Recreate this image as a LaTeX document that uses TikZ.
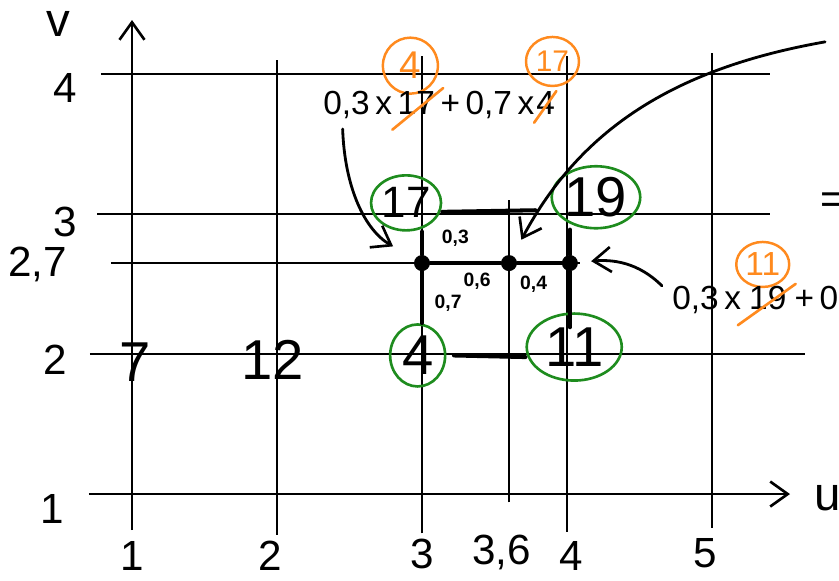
\documentclass[tikz,border=0pt]{standalone}
\usepackage{fontspec}
\setmainfont{Liberation Sans}
\usetikzlibrary{arrows.meta,positioning,calc,shapes.geometric}
\definecolor{pengreen}{HTML}{1E8C1E}
\definecolor{penorange}{HTML}{FF8A1E}
\tikzset{
  >={Straight Barb[length=3.5mm,width=5mm,line width=1.5pt]},
  % gitter
  grid/.style={draw=black,line width=1.1pt},
  ax/.style={->,draw=black,line width=1.1pt},
  tick/.style={font=\fontsize{24}{24}\selectfont,inner sep=0pt},
  axl/.style={font=\fontsize{27}{27}\selectfont,inner sep=0pt},
  val/.style={font=\fontsize{32}{32}\selectfont,inner sep=0pt},
  % interpolation
  gring/.style={ellipse,draw=pengreen,line width=1.5pt,inner sep=0pt,
                font=\fontsize{32}{32}\selectfont},
  oring/.style={ellipse,draw=penorange,line width=1.4pt,inner sep=0pt,
                text=penorange,font=\fontsize{19}{19}\selectfont},
  knot/.style={circle,fill=black,inner sep=0pt,minimum size=3.2mm},
  cell/.style={draw=black,line width=2.3pt,line cap=round},
  wt/.style={font=\fontsize{11}{11}\selectfont\bfseries,inner sep=0pt},
  fml/.style={font=\fontsize{19}{19}\selectfont,inner sep=0pt},
  strike/.style={draw=penorange,line width=1.5pt,line cap=round},
  ptr/.style={->,draw=black,line width=1.6pt,line cap=round},
}
\begin{document}
\begin{tikzpicture}[x=2.9cm,y=2.8cm]
\useasboundingbox (0.0897,0.379) rectangle (5.876,4.529);
% gitter
\foreach \u/\lo/\hi in {2/0.71/4.1, 3/0.72/4.13, 3.6/0.94/3.1, 4/0.73/4.13, 5/0.76/4.15}
  \draw[grid] (\u,\lo) -- (\u,\hi);
\foreach \v/\lo/\hi in {4/0.786/5.4, 3/0.759/5.4, 2.65/0.855/4.09, 2/0.71/5.64}
  \draw[grid] (\lo,\v) -- (\hi,\v);
\draw[ax] (0.703,1) -- (5.538,1);
\draw[ax] (1,0.743) -- (1,4.386);
\node[axl] (ul) at (5.8,0.97) {u};
\node[axl] (vl) at (0.49,4.36) {v};
% achsen
\node[tick] (u1) at (1,0.56) {1};
\node[tick] (u2) at (1.95,0.56) {2};
\node[tick] (u3) at (3,0.57) {3};
\node[tick] (u36) at (3.55,0.58) {3,6};
\node[tick] (u4) at (4.03,0.56) {4};
\node[tick] (u5) at (4.95,0.58) {5};
\node[tick] (v4) at (0.54,3.9) {4};
\node[tick] (v3) at (0.54,2.94) {3};
\node[tick] (v27) at (0.35,2.64) {2,7};
\node[tick] (v2) at (0.47,1.96) {2};
\node[tick] (v1) at (0.45,0.89) {1};
% werte
\node[val] (n7) at (1.02,1.94) {7};
\node[val] (n12) at (1.97,1.96) {12};
\node[gring,minimum width=1.4cm,minimum height=1.1cm,font=\fontsize{25}{25}\selectfont] (g17) at (2.89,3.08) {17};
\node[gring,minimum width=1.5cm,minimum height=1.24cm] (g19) at (4.2,3.12) {19};
\node[gring,minimum width=1.1cm,minimum height=1.24cm] (g4) at (2.97,1.99) {4};
\node[gring,minimum width=1.9cm,minimum height=1.34cm] (g11) at (4.05,2.05) {11};
\node[oring,minimum width=1.1cm,minimum height=1.12cm,font=\fontsize{22}{22}\selectfont] (o4) at (2.92,4.06) {4};
\node[oring,minimum width=1.06cm,minimum height=0.98cm,font=\fontsize{17}{17}\selectfont] (o17) at (3.9,4.09) {17};
\node[oring,minimum width=1.06cm,minimum height=0.9cm] (o11) at (5.35,2.64) {11};
% punkte
\node[knot] (dL) at (3,2.65) {};
\node[knot] (dM) at (3.6,2.65) {};
\node[knot] (dR) at (4.02,2.65) {};
\draw[cell] (dL |- g17.south) -- (dL) -- (dL |- g4.north);
\draw[cell] (dR |- g19.south) -- (dR) -- ([yshift=-3mm]dR |- g11.north);
\draw[cell] ([yshift=-1.8mm]g17.east) -- ([xshift=-3mm,yshift=-2.6mm]g19.west);
\draw[cell] ([xshift=1.5mm]g4.east) -- ([yshift=-2mm]g11.west);
\draw[cell] (dL) -- (dM) -- (dR);
\node[wt] (w03) at (3.23,2.83) {0,3};
\node[wt] (w06) at (3.38,2.52) {0,6};
\node[wt] (w04) at (3.77,2.5) {0,4};
\node[wt] (w07) at (3.18,2.36) {0,7};
% formeln
\node[fml,anchor=west] (fa) at (2.317,3.78) {0,3\,x};
\node[fml,base right=1mm of fa] (fb) {17};
\node[fml,base right=1mm of fb] (fc) {+\,0,7\,x};
\node[fml,base right=0.3mm of fc] (fd) {4};
\draw[strike] ([shift={(-1mm,-3mm)}]fb.south west) -- ([shift={(1.6mm,0.6mm)}]fb.north east);
\draw[strike] ([shift={(-0.4mm,-1.6mm)}]fd.south west) -- ([shift={(0.2mm,0mm)}]fd.north east);
\node[fml,anchor=west] (ga) at (4.724,2.386) {0,3\,x};
\node[fml,base right=1.5mm of ga] (gb) {19};
\node[fml,base right=1.5mm of gb] (gc) {+\,0};
\draw[strike] ([shift={(-2.2mm,-3mm)}]gb.south west) -- ([shift={(1.8mm,0.4mm)}]gb.north east);
\node[fml,font=\fontsize{24}{24}\selectfont] (eq) at (5.83,3.075) {=};
% pfeile
\coordinate (tail) at (5.78,4.23);
\draw[ptr,shorten >=5mm] ([xshift=-3mm,yshift=-2mm]fa.south) to[out=-88,in=150] (dL);
\draw[ptr,shorten >=3.6mm] (tail) to[out=190,in=62] (dM);
\draw[ptr,shorten >=2.6mm] ([xshift=-2mm]ga.north west) to[out=135,in=5] (dR);
\end{tikzpicture}
\end{document}
